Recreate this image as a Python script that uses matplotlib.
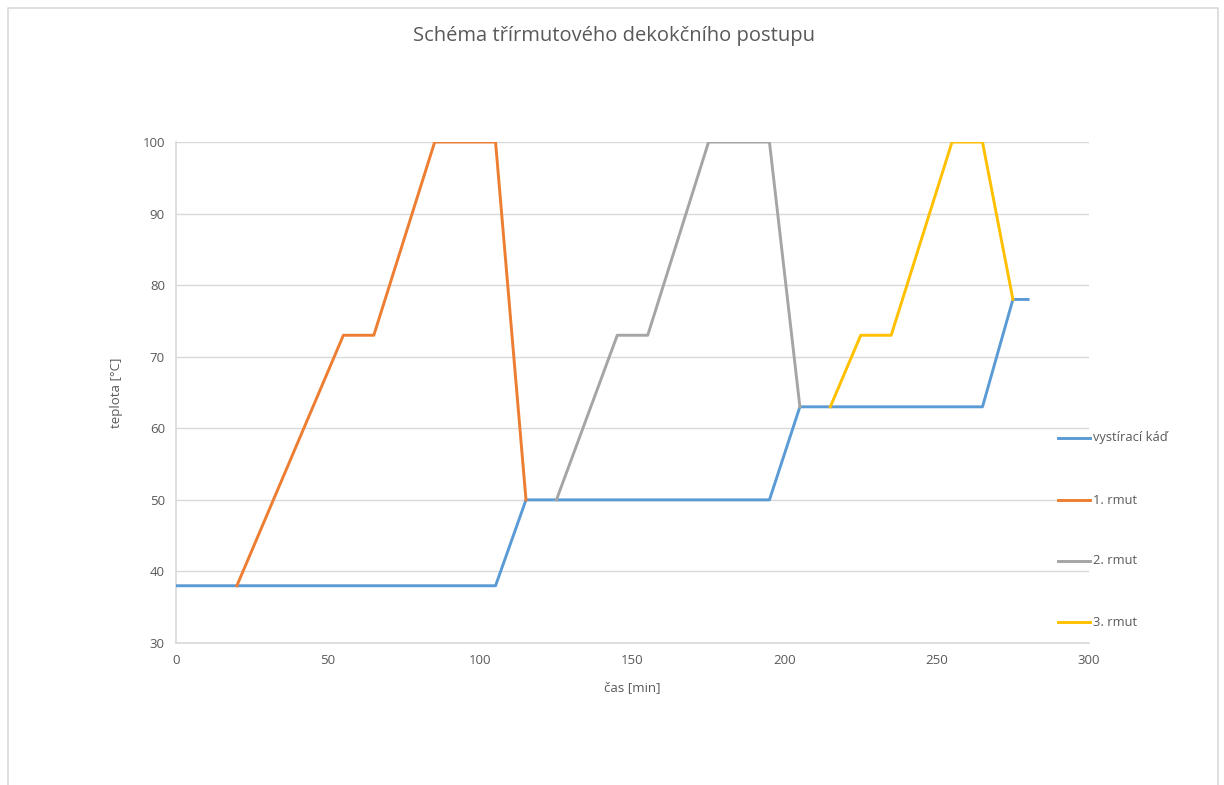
import matplotlib
matplotlib.use('Agg')
import matplotlib.pyplot as plt
from matplotlib.lines import Line2D

plt.rcParams['font.family'] = ['Open Sans', 'DejaVu Sans']

# time [min] / temperature [°C] for each vessel
kad_t = [0, 20, 105, 115, 125, 195, 205, 215, 265, 275, 280]
kad_T = [38, 38, 38, 50, 50, 50, 63, 63, 63, 78, 78]
rmut1_t = [20, 55, 65, 85, 105, 115]
rmut1_T = [38, 73, 73, 100, 100, 50]
rmut2_t = [125, 145, 155, 175, 195, 205]
rmut2_T = [50, 73, 73, 100, 100, 63]
rmut3_t = [215, 225, 235, 255, 265, 275]
rmut3_T = [63, 73, 73, 100, 100, 78]

names = ['vystírací káď', '1. rmut', '2. rmut', '3. rmut']
colors = ['#5b9bd5', '#ed7d31', '#a5a5a5', '#ffc000']
xticks = [0, 50, 100, 150, 200, 250, 300]
yticks = [30, 40, 50, 60, 70, 80, 90, 100]

W, H = 1224, 785
fig = plt.figure(figsize=(W / 100, H / 100), dpi=100)
ax = fig.add_axes([176 / W, 1 - 643 / H, (1089 - 176) / W, (643 - 142) / H])

series = [(kad_t, kad_T), (rmut1_t, rmut1_T), (rmut2_t, rmut2_T),
          (rmut3_t, rmut3_T)]
for (t, T), c in zip(series, colors):
    ax.plot(t, T, color=c, lw=2.1, solid_joinstyle='round', zorder=3)

ax.set_xlim(0, 300)
ax.set_ylim(30, 100)
ax.set_xticks(xticks)
ax.set_yticks(yticks)
ax.grid(axis='y', color='#d9d9d9', lw=1)
ax.set_axisbelow(True)
for s in ['top', 'right']:
    ax.spines[s].set_visible(False)
for s in ['left', 'bottom']:
    ax.spines[s].set_color('#d9d9d9')
    ax.spines[s].set_linewidth(1.2)
ax.tick_params(length=0, labelsize=9.5, colors='#595959', pad=8)
ax.set_xlabel('čas [min]', fontsize=9.5, color='#595959', labelpad=10)
ax.set_ylabel('teplota [°C]', fontsize=9.5, color='#595959', labelpad=14)

fig.text(614 / W, 1 - 36 / H, 'Schéma třírmutového dekokčního postupu',
         ha='center', va='center', fontsize=14.5, color='#595959')

# legend down the right side
leg_y = [438, 500, 561, 622]
for name, c, y in zip(names, colors, leg_y):
    fig.add_artist(Line2D([1058 / W, 1090 / W], [1 - y / H, 1 - y / H],
                          color=c, lw=2.1, transform=fig.transFigure))
    fig.text(1093 / W, 1 - y / H, name, ha='left', va='center',
             fontsize=9.3, color='#595959')

# chart border
fig.add_artist(Line2D([8 / W, 8 / W, 1218 / W, 1218 / W],
                      [0, 1 - 8 / H, 1 - 8 / H, 0],
                      color='#d9d9d9', lw=1.2, transform=fig.transFigure))

fig.savefig('out.png', dpi=100)
